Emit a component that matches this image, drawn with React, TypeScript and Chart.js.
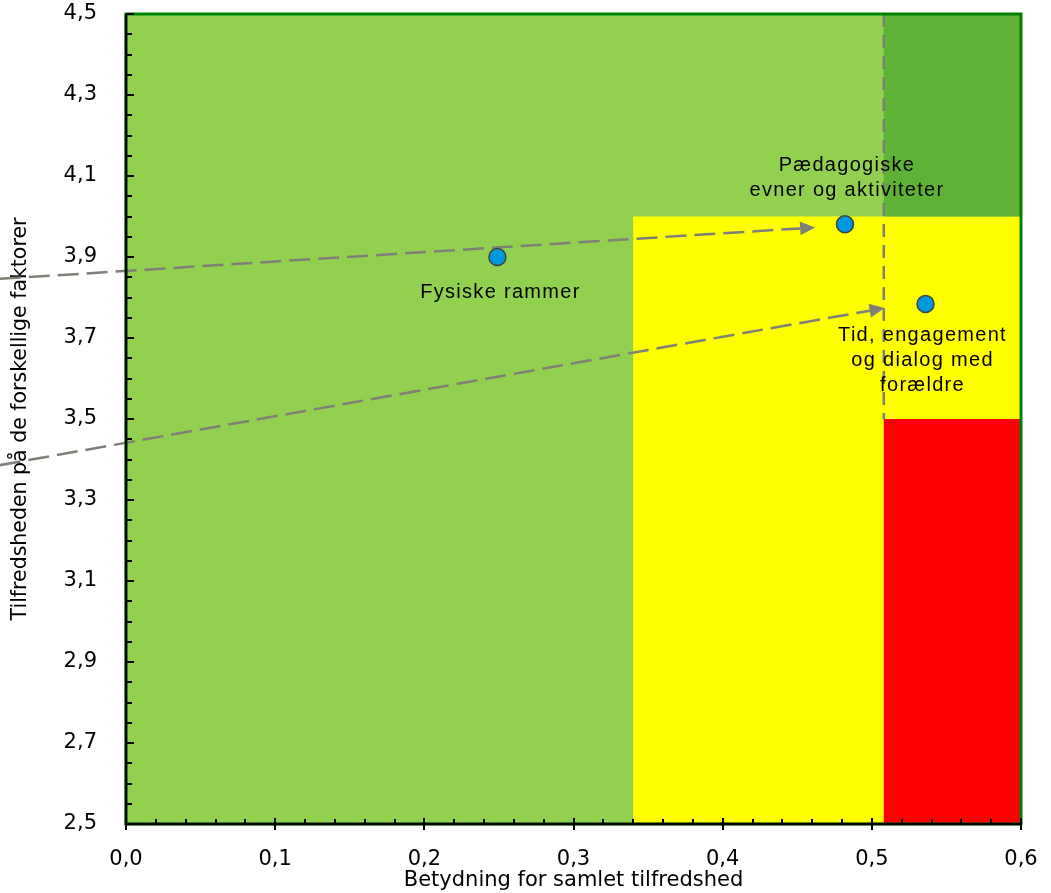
import React, { useEffect, useRef } from "react";
import { Chart, registerables } from "chart.js";

Chart.register(...registerables);

// ---- data ----
const pointNames = ["Fysiske rammer", "Pædagogiske\nevner og aktiviteter", "Tid, engagement\nog dialog med\nforældre"];
const pointX = [0.249, 0.482, 0.536];
const pointY = [3.9, 3.981, 3.784];

// arrows (movement from previous position)
const arrowFromX = [-0.0846, -0.0846];
const arrowFromY = [3.846, 3.386];
const arrowToX = [0.462, 0.5085];
const arrowToY = [3.973, 3.774];

// background zones
const zoneX0 = [0, 0.34, 0.508, 0.508];
const zoneX1 = [0.6, 0.6, 0.6, 0.6];
const zoneY0 = [2.5, 2.5, 4.0, 2.5];
const zoneY1 = [4.5, 4.0, 4.5, 3.5];
const zoneColors = ["#92D050", "#FFFF00", "#60B236", "#FF0000"];

// divider line
const dividerX = 0.508;
const dividerY0 = 3.5;
const dividerY1 = 4.5;

const xMin = 0, xMax = 0.6, xStep = 0.1, xMinor = 0.02;
const yMin = 2.5, yMax = 4.5, yStep = 0.2, yMinor = 0.05;

const xTitle = "Betydning for samlet tilfredshed";
const yTitle = "Tilfredsheden på de forskellige faktorer";

// label placement (pixel offsets of line centres relative to point)
const labelDX = [3, 2, -3];
const labelDY = [35, -59, 32];
const labelLineH = 25;

const GREY = "#7F7F78";
const FONT = '"DejaVu Sans", Verdana, sans-serif';

const fmt = (v: number) => v.toFixed(1).replace(".", ",");

const decorPlugin = {
  id: "decor",
  beforeDatasetsDraw(chart: any) {
    const { ctx, scales } = chart;
    const xs = scales.x, ys = scales.y;
    ctx.save();
    for (let i = 0; i < zoneColors.length; i++) {
      const x0 = xs.getPixelForValue(zoneX0[i]);
      const x1 = xs.getPixelForValue(zoneX1[i]);
      const y0 = ys.getPixelForValue(zoneY1[i]);
      const y1 = ys.getPixelForValue(zoneY0[i]);
      ctx.fillStyle = zoneColors[i];
      ctx.fillRect(x0, y0, x1 - x0, y1 - y0);
    }
    // divider
    ctx.strokeStyle = GREY;
    ctx.lineWidth = 2.5;
    ctx.setLineDash([13, 8]);
    const dx = xs.getPixelForValue(dividerX);
    ctx.beginPath();
    ctx.moveTo(dx, ys.getPixelForValue(dividerY1));
    ctx.lineTo(dx, ys.getPixelForValue(dividerY0));
    ctx.stroke();

    // arrows
    for (let i = 0; i < arrowFromX.length; i++) {
      const ax = xs.getPixelForValue(arrowFromX[i]);
      const ay = ys.getPixelForValue(arrowFromY[i]);
      const bx = xs.getPixelForValue(arrowToX[i]);
      const by = ys.getPixelForValue(arrowToY[i]);
      const ang = Math.atan2(by - ay, bx - ax);
      const headL = 15, headW = 7;
      const ex = bx - headL * Math.cos(ang);
      const ey = by - headL * Math.sin(ang);
      ctx.setLineDash([21, 8]);
      ctx.lineWidth = 2.5;
      ctx.beginPath();
      ctx.moveTo(ax, ay);
      ctx.lineTo(ex, ey);
      ctx.stroke();
      ctx.setLineDash([]);
      ctx.fillStyle = GREY;
      ctx.beginPath();
      ctx.moveTo(bx, by);
      ctx.lineTo(ex + headW * Math.sin(ang), ey - headW * Math.cos(ang));
      ctx.lineTo(ex - headW * Math.sin(ang), ey + headW * Math.cos(ang));
      ctx.closePath();
      ctx.fill();
    }
    ctx.restore();
  },
  afterDatasetsDraw(chart: any) {
    const { ctx, scales, chartArea } = chart;
    const xs = scales.x, ys = scales.y;
    const { left, right, top, bottom } = chartArea;
    ctx.save();
    // border
    ctx.strokeStyle = "#008000";
    ctx.lineWidth = 3;
    ctx.strokeRect(left, top, right - left, bottom - top);
    // axis lines
    ctx.strokeStyle = "#000000";
    ctx.lineWidth = 2.5;
    ctx.beginPath();
    ctx.moveTo(left, top);
    ctx.lineTo(left, bottom);
    ctx.lineTo(right, bottom);
    ctx.stroke();
    // ticks
    ctx.lineWidth = 2;
    ctx.beginPath();
    for (let v = xMin; v <= xMax + 1e-9; v += xMinor) {
      const px = Math.round(xs.getPixelForValue(v));
      const major = Math.abs(v / xStep - Math.round(v / xStep)) < 1e-6;
      ctx.moveTo(px, bottom - (major ? 6 : 5));
      ctx.lineTo(px, bottom + (major ? 6 : 0));
    }
    for (let v = yMin; v <= yMax + 1e-9; v += yMinor) {
      const py = Math.round(ys.getPixelForValue(v));
      const major = Math.abs((v - yMin) / yStep - Math.round((v - yMin) / yStep)) < 1e-6;
      ctx.moveTo(left, py);
      ctx.lineTo(left + (major ? 8 : 6), py);
    }
    ctx.stroke();

    // labels
    ctx.fillStyle = "#000000";
    ctx.font = '20px "Liberation Sans", Arial, sans-serif';
    (ctx as any).letterSpacing = "1.3px";
    ctx.textAlign = "center";
    ctx.textBaseline = "middle";
    for (let i = 0; i < pointNames.length; i++) {
      const px = xs.getPixelForValue(pointX[i]);
      const py = ys.getPixelForValue(pointY[i]);
      const lines = pointNames[i].split("\n");
      lines.forEach((ln, j) => {
        ctx.fillText(ln, px + labelDX[i], py + labelDY[i] + j * labelLineH);
      });
    }
    ctx.restore();
  },
};

export default function App() {
  const ref = useRef<HTMLCanvasElement | null>(null);
  useEffect(() => {
    if (!ref.current) return;
    const chart = new Chart(ref.current, {
      type: "scatter",
      data: {
        datasets: [
          {
            data: pointX.map((x, i) => ({ x, y: pointY[i] })),
            backgroundColor: "#0098DC",
            borderColor: "#404040",
            borderWidth: 1.5,
            pointRadius: 8.5,
            pointHoverRadius: 8.5,
          },
        ],
      },
      options: {
        animation: false,
        responsive: true,
        maintainAspectRatio: false,
        events: [],
        layout: { padding: { top: 14, right: 30, left: 0, bottom: 0 } },
        plugins: { legend: { display: false }, tooltip: { enabled: false } },
        scales: {
          x: {
            type: "linear",
            min: xMin,
            max: xMax,
            border: { display: false },
            grid: { display: false, drawTicks: false, tickLength: 0 },
            ticks: {
              stepSize: xStep,
              padding: 23,
              color: "#000",
              font: { family: FONT, size: 21 },
              callback: (v: any) => fmt(Number(v)),
              maxRotation: 0,
            },
            title: {
              display: true,
              text: xTitle,
              color: "#000",
              font: { family: FONT, size: 21 },
              padding: { top: 0, bottom: 0 },
            },
            afterFit: (s: any) => {
              s.height = 69;
              s.paddingLeft = 0;
              s.paddingRight = 0;
              s.paddingTop = 0;
              s.paddingBottom = 0;
            },
          },
          y: {
            type: "linear",
            min: yMin,
            max: yMax,
            border: { display: false },
            grid: { display: false, drawTicks: false, tickLength: 0 },
            ticks: {
              stepSize: yStep,
              padding: 29,
              color: "#000",
              font: { family: FONT, size: 21 },
              callback: (v: any) => fmt(Number(v)),
            },
            title: {
              display: true,
              text: yTitle,
              color: "#000",
              font: { family: FONT, size: 20.5 },
              padding: { top: 8, bottom: 8 },
            },
            afterFit: (s: any) => {
              s.width = 126;
              s.paddingLeft = 0;
              s.paddingRight = 0;
              s.paddingTop = 0;
              s.paddingBottom = 0;
            },
          },
        },
      },
      plugins: [decorPlugin],
    } as any);
    return () => chart.destroy();
  }, []);
  return (
    <div style={{ position: "fixed", left: 0, top: 0, width: 1051, height: 893, background: "#fff" }}>
      <canvas ref={ref} />
    </div>
  );
}
